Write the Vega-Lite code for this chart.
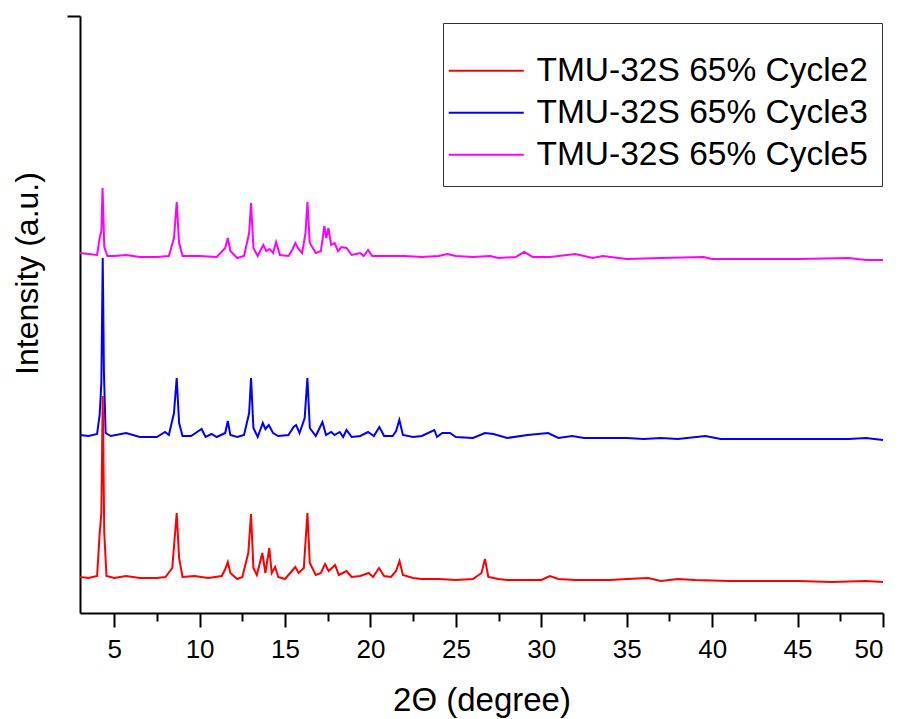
{
  "$schema": "https://vega.github.io/schema/vega-lite/v6.json",
  "width": 803,
  "height": 597,
  "autosize": {"type": "none"},
  "padding": {"left": 80, "top": 16, "right": 18, "bottom": 106},
  "background": "white",
  "config": {
    "view": {"stroke": null},
    "font": "Liberation Sans"
  },
  "datasets": {
    "c5": [{"theta":3.0,"intensity":360},{"theta":3.5,"intensity":359},{"theta":4.0,"intensity":358},{"theta":4.15,"intensity":375},{"theta":4.25,"intensity":382},{"theta":4.32,"intensity":425},{"theta":4.42,"intensity":366},{"theta":4.6,"intensity":357},{"theta":5.0,"intensity":357},{"theta":5.7,"intensity":358},{"theta":6.5,"intensity":356},{"theta":7.5,"intensity":356},{"theta":8.2,"intensity":357},{"theta":8.5,"intensity":375},{"theta":8.66,"intensity":411},{"theta":8.8,"intensity":370},{"theta":9.0,"intensity":357},{"theta":10.0,"intensity":357},{"theta":11.0,"intensity":356},{"theta":11.5,"intensity":365},{"theta":11.65,"intensity":375},{"theta":11.8,"intensity":362},{"theta":12.2,"intensity":355},{"theta":12.6,"intensity":357},{"theta":12.9,"intensity":380},{"theta":13.01,"intensity":410},{"theta":13.15,"intensity":365},{"theta":13.4,"intensity":357},{"theta":13.73,"intensity":368},{"theta":13.9,"intensity":362},{"theta":14.1,"intensity":364},{"theta":14.3,"intensity":360},{"theta":14.48,"intensity":371},{"theta":14.7,"intensity":358},{"theta":15.2,"intensity":357},{"theta":15.45,"intensity":364},{"theta":15.6,"intensity":370},{"theta":15.75,"intensity":365},{"theta":16.0,"intensity":360},{"theta":16.2,"intensity":380},{"theta":16.31,"intensity":411},{"theta":16.45,"intensity":370},{"theta":16.8,"intensity":360},{"theta":17.1,"intensity":362},{"theta":17.3,"intensity":387},{"theta":17.42,"intensity":375},{"theta":17.54,"intensity":385},{"theta":17.7,"intensity":368},{"theta":17.9,"intensity":370},{"theta":18.1,"intensity":362},{"theta":18.3,"intensity":366},{"theta":18.6,"intensity":365},{"theta":18.9,"intensity":358},{"theta":19.4,"intensity":360},{"theta":19.6,"intensity":357},{"theta":19.86,"intensity":363},{"theta":20.1,"intensity":357},{"theta":21,"intensity":357},{"theta":22,"intensity":357},{"theta":23,"intensity":356},{"theta":24,"intensity":357},{"theta":24.5,"intensity":359},{"theta":25,"intensity":357},{"theta":26,"intensity":356},{"theta":27,"intensity":357},{"theta":27.5,"intensity":355},{"theta":28.5,"intensity":356},{"theta":29.0,"intensity":361},{"theta":29.5,"intensity":356},{"theta":30.5,"intensity":356},{"theta":32.0,"intensity":359},{"theta":33.0,"intensity":355},{"theta":33.6,"intensity":357},{"theta":35,"intensity":354},{"theta":37,"intensity":355},{"theta":39.5,"intensity":356},{"theta":40,"intensity":354},{"theta":42,"intensity":354},{"theta":45,"intensity":354},{"theta":48,"intensity":355},{"theta":49,"intensity":353},{"theta":50,"intensity":353}],
    "c3": [{"theta":3.0,"intensity":178},{"theta":3.5,"intensity":177},{"theta":4.0,"intensity":179},{"theta":4.15,"intensity":198},{"theta":4.25,"intensity":230},{"theta":4.33,"intensity":355},{"theta":4.4,"intensity":241},{"theta":4.5,"intensity":180},{"theta":4.8,"intensity":177},{"theta":5.7,"intensity":180},{"theta":6.5,"intensity":176},{"theta":7.5,"intensity":176},{"theta":7.98,"intensity":181},{"theta":8.2,"intensity":178},{"theta":8.5,"intensity":200},{"theta":8.66,"intensity":235},{"theta":8.8,"intensity":190},{"theta":9.0,"intensity":177},{"theta":9.5,"intensity":177},{"theta":10.12,"intensity":184},{"theta":10.35,"intensity":176},{"theta":10.7,"intensity":179},{"theta":11.0,"intensity":176},{"theta":11.5,"intensity":180},{"theta":11.65,"intensity":192},{"theta":11.8,"intensity":178},{"theta":12.2,"intensity":176},{"theta":12.6,"intensity":178},{"theta":12.9,"intensity":200},{"theta":13.01,"intensity":235},{"theta":13.15,"intensity":185},{"theta":13.4,"intensity":176},{"theta":13.7,"intensity":190},{"theta":13.85,"intensity":184},{"theta":14.05,"intensity":188},{"theta":14.3,"intensity":180},{"theta":14.6,"intensity":177},{"theta":15.2,"intensity":178},{"theta":15.5,"intensity":186},{"theta":15.65,"intensity":188},{"theta":15.85,"intensity":180},{"theta":16.15,"intensity":195},{"theta":16.31,"intensity":235},{"theta":16.45,"intensity":185},{"theta":16.8,"intensity":177},{"theta":17.19,"intensity":191},{"theta":17.4,"intensity":178},{"theta":17.7,"intensity":181},{"theta":17.9,"intensity":178},{"theta":18.2,"intensity":181},{"theta":18.4,"intensity":176},{"theta":18.6,"intensity":183},{"theta":18.9,"intensity":176},{"theta":19.4,"intensity":177},{"theta":19.86,"intensity":181},{"theta":20.2,"intensity":177},{"theta":20.52,"intensity":186},{"theta":20.8,"intensity":177},{"theta":21.3,"intensity":177},{"theta":21.5,"intensity":182},{"theta":21.69,"intensity":193},{"theta":21.9,"intensity":178},{"theta":22.5,"intensity":176},{"theta":23.0,"intensity":177},{"theta":23.74,"intensity":183},{"theta":23.9,"intensity":176},{"theta":24.2,"intensity":180},{"theta":24.66,"intensity":180},{"theta":25.0,"intensity":176},{"theta":26.0,"intensity":175},{"theta":26.7,"intensity":180},{"theta":27.2,"intensity":179},{"theta":28,"intensity":175},{"theta":29.2,"intensity":178},{"theta":30.4,"intensity":180},{"theta":31,"intensity":175},{"theta":31.8,"intensity":177},{"theta":32.5,"intensity":175},{"theta":34,"intensity":175},{"theta":35,"intensity":175},{"theta":36,"intensity":174},{"theta":37,"intensity":175},{"theta":38,"intensity":174},{"theta":39.6,"intensity":177},{"theta":40.5,"intensity":174},{"theta":42,"intensity":174},{"theta":44,"intensity":174},{"theta":46,"intensity":174},{"theta":48,"intensity":174},{"theta":49,"intensity":175},{"theta":50,"intensity":173}],
    "c2": [{"theta":3.0,"intensity":36},{"theta":3.5,"intensity":35},{"theta":4.0,"intensity":37},{"theta":4.15,"intensity":79},{"theta":4.25,"intensity":100},{"theta":4.33,"intensity":217},{"theta":4.42,"intensity":80},{"theta":4.55,"intensity":37},{"theta":5.0,"intensity":35},{"theta":5.7,"intensity":37},{"theta":6.5,"intensity":35},{"theta":7.5,"intensity":35},{"theta":8.0,"intensity":36},{"theta":8.4,"intensity":45},{"theta":8.66,"intensity":100},{"theta":8.8,"intensity":55},{"theta":9.0,"intensity":36},{"theta":9.7,"intensity":37},{"theta":10.5,"intensity":35},{"theta":11.3,"intensity":37},{"theta":11.5,"intensity":44},{"theta":11.65,"intensity":51},{"theta":11.8,"intensity":40},{"theta":12.2,"intensity":34},{"theta":12.5,"intensity":36},{"theta":12.85,"intensity":60},{"theta":13.01,"intensity":99},{"theta":13.15,"intensity":45},{"theta":13.35,"intensity":38},{"theta":13.67,"intensity":60},{"theta":13.85,"intensity":40},{"theta":14.08,"intensity":65},{"theta":14.22,"intensity":40},{"theta":14.42,"intensity":46},{"theta":14.6,"intensity":36},{"theta":15.0,"intensity":34},{"theta":15.4,"intensity":42},{"theta":15.6,"intensity":46},{"theta":15.8,"intensity":40},{"theta":16.1,"intensity":45},{"theta":16.31,"intensity":100},{"theta":16.45,"intensity":50},{"theta":16.8,"intensity":38},{"theta":17.1,"intensity":40},{"theta":17.34,"intensity":49},{"theta":17.55,"intensity":42},{"theta":17.93,"intensity":48},{"theta":18.15,"intensity":38},{"theta":18.6,"intensity":42},{"theta":18.9,"intensity":36},{"theta":19.4,"intensity":37},{"theta":19.9,"intensity":40},{"theta":20.15,"intensity":36},{"theta":20.5,"intensity":45},{"theta":20.8,"intensity":37},{"theta":21.2,"intensity":36},{"theta":21.5,"intensity":42},{"theta":21.7,"intensity":52},{"theta":21.9,"intensity":38},{"theta":22.5,"intensity":35},{"theta":23,"intensity":34},{"theta":24,"intensity":34},{"theta":25,"intensity":33},{"theta":26.0,"intensity":34},{"theta":26.5,"intensity":40},{"theta":26.7,"intensity":54},{"theta":26.9,"intensity":36},{"theta":27.5,"intensity":34},{"theta":28,"intensity":33},{"theta":29,"intensity":33},{"theta":30,"intensity":33},{"theta":30.5,"intensity":37},{"theta":31,"intensity":34},{"theta":32,"intensity":33},{"theta":33,"intensity":33},{"theta":34,"intensity":33},{"theta":35,"intensity":34},{"theta":36.25,"intensity":35},{"theta":37,"intensity":32},{"theta":38,"intensity":34},{"theta":39,"intensity":33},{"theta":41,"intensity":32},{"theta":43,"intensity":32},{"theta":45,"intensity":32},{"theta":47,"intensity":31},{"theta":49,"intensity":32},{"theta":50,"intensity":31}]
  },
  "layer": [
    {
      "data": {"name": "c5"},
      "mark": {"type": "line", "strokeWidth": 2},
      "encoding": {
        "x": {"field": "theta", "type": "quantitative"},
        "y": {"field": "intensity", "type": "quantitative"},
        "color": {"datum": "TMU-32S 65% Cycle5"}
      }
    },
    {
      "data": {"name": "c3"},
      "mark": {"type": "line", "strokeWidth": 2},
      "encoding": {
        "x": {"field": "theta", "type": "quantitative"},
        "y": {"field": "intensity", "type": "quantitative"},
        "color": {"datum": "TMU-32S 65% Cycle3"}
      }
    },
    {
      "data": {"name": "c2"},
      "mark": {"type": "line", "strokeWidth": 2},
      "encoding": {
        "x": {
          "field": "theta", "type": "quantitative",
          "scale": {"domain": [3, 50], "nice": false, "zero": false},
          "axis": {
            "title": "2Θ (degree)",
            "titleFontSize": 33, "titleFontWeight": "normal", "titleColor": "black", "titlePadding": 22,
            "values": [5, 7.5, 10, 12.5, 15, 17.5, 20, 22.5, 25, 27.5, 30, 32.5, 35, 37.5, 40, 42.5, 45, 47.5, 50],
            "labelExpr": "datum.value % 5 === 0 ? datum.label : ''",
            "labelFontSize": 26, "labelColor": "black", "labelPadding": 9,
            "tickSize": {"condition": {"test": "datum.value % 5 === 0", "value": 14}, "value": 8},
            "tickColor": "black", "tickWidth": 2,
            "domainColor": "black", "domainWidth": 2,
            "grid": false
          }
        },
        "y": {
          "field": "intensity", "type": "quantitative",
          "scale": {"domain": [0, 597], "nice": false, "zero": false},
          "axis": {
            "title": "Intensity (a.u.)",
            "titleFontSize": 32, "titleFontWeight": "normal", "titleColor": "black", "titlePadding": 22,
            "titleY": 257,
            "values": [597], "labels": false,
            "tickSize": 13, "tickColor": "black", "tickWidth": 2,
            "domainColor": "black", "domainWidth": 2,
            "grid": false
          }
        },
        "color": {
          "datum": "TMU-32S 65% Cycle2",
          "type": "nominal",
          "scale": {
            "domain": ["TMU-32S 65% Cycle2", "TMU-32S 65% Cycle3", "TMU-32S 65% Cycle5"],
            "range": ["#ff0000", "#0000ff", "#ff00ff"]
          },
          "legend": {
            "orient": "none", "legendX": 363, "legendY": 7,
            "title": " ", "titleFontSize": 11, "titlePadding": 6,
            "symbolType": "M-1.667,0H3.333", "symbolSize": 900, "symbolStrokeWidth": 2,
            "labelFontSize": 33.5, "labelColor": "black", "labelOffset": 46, "labelLimit": 500,
            "rowPadding": 7,
            "padding": 14, "strokeColor": "#333333", "fillColor": "white"
          }
        }
      }
    }
  ]
}
